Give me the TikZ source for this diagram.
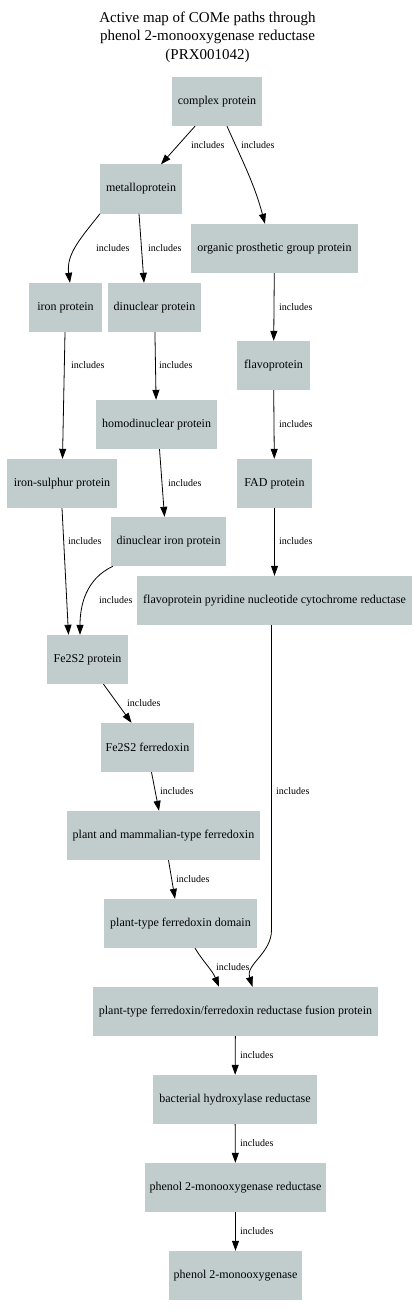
\documentclass[tikz,border=0pt]{standalone}
\usepackage{fontspec}
\setmainfont{Liberation Serif}
\usetikzlibrary{arrows.meta,positioning}
\definecolor{azurethree}{HTML}{C1CDCD}

\begin{document}
\begin{tikzpicture}[x=1pt, y=-1pt, >={Triangle[length=10pt,width=7pt]},
    term/.style={fill=azurethree, minimum height=49pt, inner sep=0pt,
                 font=\fontsize{12}{14}\selectfont},
    lbl/.style={anchor=west, inner sep=0pt,
                font=\fontsize{10}{12}\selectfont},
    edge/.style={->, line width=0.8pt}]
  \useasboundingbox (0,0) rectangle (414,1316);

  %% Title
  \node[align=center, font=\fontsize{15}{18.5}\selectfont]
    (title) at (207.5,37)
    {Active map of COMe paths through\\phenol 2-monooxygenase reductase\\(PRX001042)};

  %% Terms
  \node[term, minimum width=90]  (complex) at (217,101.5)   {complex protein};
  \node[term, minimum width=82]  (metallo) at (141,189)     {metalloprotein};
  \node[term, minimum width=167] (organic) at (274.5,248.5) {organic prosthetic group protein};
  \node[term, minimum width=73]  (iron)    at (65.5,307.5)  {iron protein};
  \node[term, minimum width=93]  (dinuc)   at (154.5,307.5) {dinuclear protein};
  \node[term, minimum width=73]  (flavo)   at (273.5,365.5) {flavoprotein};
  \node[term, minimum width=121] (homodi)  at (156.5,424.5) {homodinuclear protein};
  \node[term, minimum width=110] (ironS)   at (62,483.5)    {iron-sulphur protein};
  \node[term, minimum width=75]  (fad)     at (274.5,483.5) {FAD protein};
  \node[term, minimum width=115] (dinucFe) at (168.5,541.5) {dinuclear iron protein};
  \node[term, minimum width=275] (fpr)     at (274.5,600.5)
    {flavoprotein pyridine nucleotide cytochrome reductase};
  \node[term, minimum width=81]  (fetwop)  at (87.5,659.5)  {Fe2S2 protein};
  \node[term, minimum width=93]  (fetwof)  at (147.5,747.5) {Fe2S2 ferredoxin};
  \node[term, minimum width=193] (pmf)     at (163.5,835.5) {plant and mammalian-type ferredoxin};
  \node[term, minimum width=153] (ptd)     at (180.5,923.5) {plant-type ferredoxin domain};
  \node[term, minimum width=285] (fusion)  at (235.5,1011.5)
    {plant-type ferredoxin/ferredoxin reductase fusion protein};
  \node[term, minimum width=164] (bact)    at (235,1099.5)  {bacterial hydroxylase reductase};
  \node[term, minimum width=181] (ptwored) at (235.5,1187.5) {phenol 2-monooxygenase reductase};
  \node[term, minimum width=133] (ptwo)    at (235.5,1275.5) {phenol 2-monooxygenase};

  %% Edges
  \draw[edge] ([xshift=-22]complex.south) -- ([xshift=20]metallo.north);
  \draw[edge] ([xshift=10]complex.south) to[out=-66,in=105] ([xshift=-9.5]organic.north);
  \draw[edge] ([xshift=-41]metallo.south) to[out=-128,in=98] ([xshift=4.5]iron.north);
  \draw[edge] ([xshift=-2]metallo.south) -- ([xshift=-10.5]dinuc.north);
  \draw[edge] (organic) -- (flavo);
  \draw[edge] (iron) -- (ironS);
  \draw[edge] (dinuc) -- (homodi);
  \draw[edge] (flavo) -- (fad);
  \draw[edge] ([xshift=3]homodi.south) -- ([xshift=-4]dinucFe.north);
  \draw[edge] (ironS.south) -- ([xshift=-19]fetwop.north);
  \draw[edge] (fad) -- (fpr);
  \draw[edge] ([xshift=-55.5]dinucFe.south) to[out=-155,in=90] ([xshift=-7.5]fetwop.north);
  \draw[edge] ([xshift=16]fetwop.south) -- ([xshift=-16]fetwof.north);
  \draw[edge] ([xshift=4]fetwof.south) -- ([xshift=-4.5]pmf.north);
  \draw[edge] ([xshift=5]pmf.south) -- ([xshift=-5.5]ptd.north);
  \draw[edge] ([xshift=14.5]ptd.south) to[out=-58,in=112] ([xshift=-16.5]fusion.north);
  \coordinate (fbend) at (271.5,930);
  \draw[edge] (fpr.south -| fbend) -- (fbend) to[out=-90,in=108] ([xshift=17]fusion.north);
  \draw[edge] (fusion) -- (bact);
  \draw[edge] (bact) -- (ptwored);
  \draw[edge] (ptwored) -- (ptwo);

  %% Edge labels
  \node[lbl] (l1)  at (191,145)   {includes};
  \node[lbl] (l2)  at (241,145)   {includes};
  \node[lbl] (l3)  at (96,248)    {includes};
  \node[lbl] (l4)  at (148,248)   {includes};
  \node[lbl] (l5)  at (279,307.5) {includes};
  \node[lbl] (l6)  at (71,365)    {includes};
  \node[lbl] (l7)  at (159,365)   {includes};
  \node[lbl] (l8)  at (279,424)   {includes};
  \node[lbl] (l9)  at (168,483)   {includes};
  \node[lbl] (l10) at (68,541)    {includes};
  \node[lbl] (l11) at (279,541)   {includes};
  \node[lbl] (l12) at (99,600)    {includes};
  \node[lbl] (l13) at (127,703)   {includes};
  \node[lbl] (l14) at (160,791)   {includes};
  \node[lbl] (l15) at (176,879)   {includes};
  \node[lbl] (l16) at (216,967)   {includes};
  \node[lbl] (l17) at (276,791)   {includes};
  \node[lbl] (l18) at (240,1055)  {includes};
  \node[lbl] (l19) at (240,1143)  {includes};
  \node[lbl] (l20) at (240,1231)  {includes};
\end{tikzpicture}
\end{document}
